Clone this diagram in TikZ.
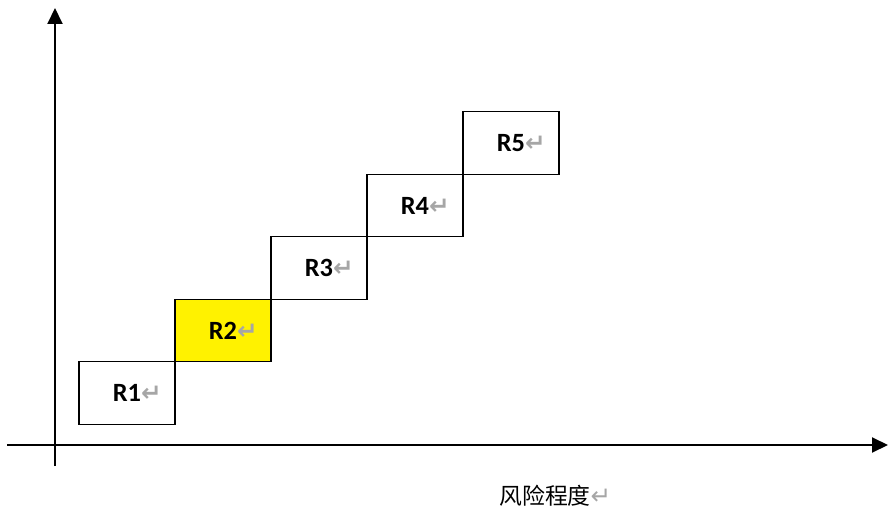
\documentclass[tikz,border=0pt]{standalone}
\usepackage{fontspec}
\setmainfont{Carlito}
\newfontfamily\cjk{Noto Sans CJK SC}
\newfontfamily\symfnt{DejaVu Sans}
\usetikzlibrary{positioning,arrows.meta}

\newcommand{\pmark}{\rlap{\symfnt\fontsize{14}{14}\selectfont\textcolor{black!35}{↵}}}

\tikzset{
	rbox/.style={draw, line width=0.8pt, minimum width=1.92cm, minimum height=1.25cm,
		inner sep=0pt, outer sep=0pt, font=\fontsize{15}{15}\selectfont\bfseries},
	axis/.style={line width=1.1pt, -{Triangle[length=3.2mm,width=3mm]}}
}

\begin{document}
\begin{tikzpicture}
	\useasboundingbox (0,0) rectangle (17.76,10.16);

	\coordinate (xs) at (0.14,1.26);
	\coordinate (xe) at (17.76,1.26);
	\coordinate (ys) at (1.10,0.84);
	\coordinate (ye) at (1.10,10.0);

	\draw[axis] (xs) -- (xe);
	\draw[axis] (ys) -- (ye);

	\node[rbox] (R1) at (2.54,2.30) {R1\pmark};
	\node[rbox, fill=yellow, above right=0cm and 0cm of R1] (R2) {R2\pmark};
	\node[rbox, above right=0cm and 0cm of R2] (R3) {R3\pmark};
	\node[rbox, above right=0cm and 0cm of R3] (R4) {R4\pmark};
	\node[rbox, above right=0cm and 0cm of R4] (R5) {R5\pmark};

	\node[font=\cjk\fontsize{13}{13}\selectfont] (risk) at (10.9,0.24) {风险程度\pmark};
\end{tikzpicture}
\end{document}
